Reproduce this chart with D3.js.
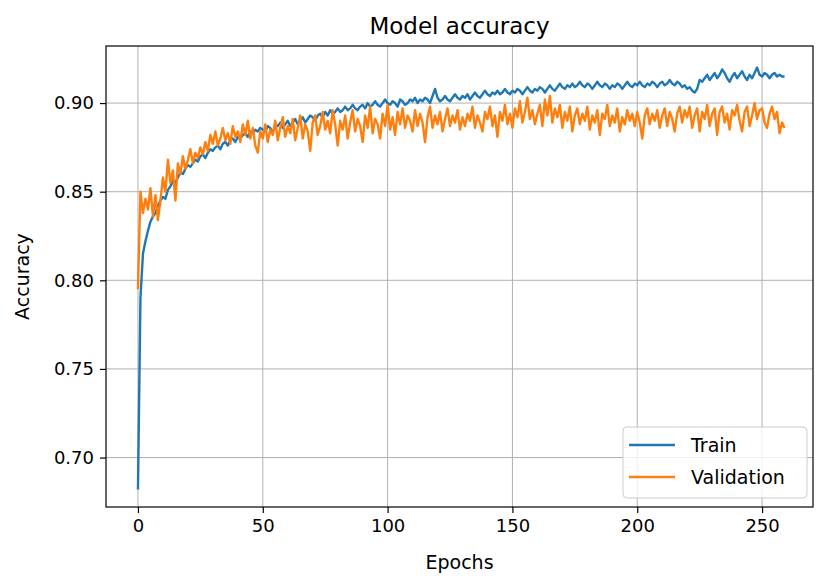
<html>
<script src="https://d3js.org/d3.v7.min.js"></script>
<style>
    body { margin: 0; background: #fff; }
    text { font-family: "DejaVu Sans", sans-serif; fill: #000; }
</style>
<body>
<svg width="817" height="581"></svg>
<script>
// epochs 0..259, values
var train = [
    0.682, 0.790, 0.815, 0.822, 0.828, 0.833, 0.836, 0.838, 0.842, 0.845,
    0.847, 0.846, 0.851, 0.853, 0.856, 0.855, 0.858, 0.861, 0.860, 0.863,
    0.865, 0.864, 0.866, 0.868, 0.867, 0.870, 0.871, 0.869, 0.872, 0.874,
    0.873, 0.875, 0.876, 0.874, 0.877, 0.878, 0.876, 0.879, 0.880, 0.878,
    0.881, 0.880, 0.882, 0.883, 0.881, 0.884, 0.883, 0.885, 0.884, 0.886,
    0.885, 0.884, 0.887, 0.886, 0.883, 0.888, 0.887, 0.889, 0.886, 0.888,
    0.890, 0.887, 0.889, 0.891, 0.888, 0.890, 0.892, 0.889, 0.891, 0.893,
    0.892, 0.890, 0.893, 0.894, 0.892, 0.895, 0.893, 0.896, 0.894, 0.895,
    0.897, 0.895, 0.896, 0.898, 0.896, 0.897, 0.899, 0.897, 0.896, 0.898,
    0.899, 0.897, 0.900, 0.898, 0.899, 0.901, 0.899, 0.898, 0.900, 0.902,
    0.900, 0.899, 0.901, 0.900, 0.898, 0.902, 0.901, 0.899, 0.900, 0.902,
    0.901, 0.903, 0.900, 0.902, 0.901, 0.903, 0.902, 0.900, 0.904, 0.908,
    0.903, 0.901, 0.902, 0.904, 0.902, 0.901, 0.903, 0.905, 0.903, 0.902,
    0.904, 0.903, 0.905, 0.902, 0.904, 0.906, 0.904, 0.903, 0.905, 0.907,
    0.905, 0.904, 0.906, 0.905, 0.907, 0.905, 0.906, 0.908, 0.906, 0.905,
    0.907, 0.906, 0.908, 0.907, 0.905, 0.907, 0.909, 0.907, 0.906, 0.908,
    0.907, 0.909, 0.908, 0.906, 0.908, 0.910, 0.908, 0.907, 0.909, 0.911,
    0.909, 0.908, 0.910, 0.909, 0.911, 0.909, 0.910, 0.912, 0.910, 0.909,
    0.911, 0.910, 0.908, 0.910, 0.912, 0.910, 0.909, 0.911, 0.910, 0.908,
    0.910, 0.909, 0.911, 0.910, 0.908, 0.910, 0.912, 0.910, 0.909, 0.911,
    0.910, 0.912, 0.910, 0.909, 0.911, 0.910, 0.912, 0.911, 0.909, 0.911,
    0.912, 0.910, 0.911, 0.913, 0.911, 0.910, 0.912, 0.911, 0.909, 0.910,
    0.908, 0.909, 0.907, 0.906, 0.908, 0.913, 0.912, 0.914, 0.916, 0.913,
    0.915, 0.917, 0.914, 0.916, 0.919, 0.917, 0.914, 0.912, 0.915, 0.917,
    0.914, 0.916, 0.918, 0.915, 0.913, 0.916, 0.914, 0.917, 0.920, 0.916,
    0.915, 0.917, 0.916, 0.914, 0.916, 0.917, 0.915, 0.916, 0.915, 0.915
];
var validation = [
    0.795, 0.850, 0.838, 0.846, 0.840, 0.852, 0.836, 0.848, 0.834, 0.845,
    0.858, 0.850, 0.868, 0.855, 0.862, 0.845, 0.866, 0.860, 0.870, 0.863,
    0.868, 0.874, 0.866, 0.872, 0.869, 0.875, 0.871, 0.878, 0.873, 0.882,
    0.877, 0.884, 0.876, 0.880, 0.886, 0.879, 0.883, 0.877, 0.887, 0.881,
    0.884, 0.878, 0.888, 0.882, 0.890, 0.880, 0.886, 0.876, 0.872, 0.884,
    0.880, 0.888, 0.878, 0.885, 0.882, 0.890, 0.879, 0.886, 0.892, 0.881,
    0.887, 0.883, 0.891, 0.879, 0.886, 0.893, 0.880, 0.888, 0.884, 0.873,
    0.889, 0.893, 0.882, 0.887, 0.895, 0.885, 0.890, 0.883, 0.896, 0.888,
    0.876, 0.890, 0.885, 0.893, 0.880, 0.889, 0.896, 0.884, 0.891, 0.887,
    0.878, 0.893, 0.886, 0.898, 0.883, 0.891, 0.888, 0.880, 0.894, 0.887,
    0.899, 0.885, 0.892, 0.882, 0.895, 0.888, 0.897, 0.886, 0.893, 0.890,
    0.884, 0.896, 0.887, 0.894, 0.889, 0.878, 0.892, 0.898, 0.886, 0.893,
    0.888, 0.895, 0.884, 0.891, 0.897, 0.887, 0.893, 0.889, 0.896, 0.885,
    0.892, 0.887, 0.894, 0.890, 0.898, 0.886, 0.893, 0.889, 0.884, 0.895,
    0.891, 0.898, 0.887, 0.893, 0.881, 0.895, 0.890, 0.899, 0.888, 0.894,
    0.886, 0.897, 0.892, 0.901, 0.889, 0.895, 0.903, 0.891, 0.896, 0.888,
    0.894, 0.899, 0.887, 0.902, 0.893, 0.904, 0.889, 0.897, 0.892, 0.899,
    0.886, 0.895, 0.890, 0.898, 0.884, 0.893, 0.897, 0.888, 0.894, 0.890,
    0.898, 0.885, 0.893, 0.889, 0.896, 0.882, 0.894, 0.891, 0.899, 0.887,
    0.893, 0.889, 0.897, 0.884, 0.892, 0.888, 0.896, 0.890, 0.894, 0.887,
    0.895, 0.889, 0.880, 0.893, 0.897, 0.888, 0.894, 0.890, 0.896, 0.886,
    0.893, 0.897, 0.887, 0.895, 0.891, 0.884, 0.894, 0.898, 0.889, 0.896,
    0.892, 0.898, 0.886, 0.893, 0.897, 0.884, 0.895, 0.891, 0.899, 0.887,
    0.894, 0.897, 0.882, 0.895, 0.898, 0.889, 0.894, 0.885, 0.896, 0.893,
    0.899, 0.890, 0.884, 0.895, 0.898, 0.887, 0.893, 0.900, 0.891, 0.896,
    0.897, 0.889, 0.886, 0.894, 0.898, 0.891, 0.895, 0.883, 0.889, 0.886
];
var xTicks = [0, 50, 100, 150, 200, 250];
var yTicks = [0.70, 0.75, 0.80, 0.85, 0.90];
var seriesNames = ["Train", "Validation"];
var colors = ["#1f77b4", "#ff7f0e"];

var mLeft = 106, mRight = 813, mTop = 46, mBottom = 507;
var svg = d3.select("svg");

var xs = d3.scaleLinear().domain([-12.8, 270.4]).range([mLeft, mRight]);
var ys = d3.scaleLinear().domain([0.6721, 0.9322]).range([mBottom, mTop]);

// grid
svg.append("g").selectAll("line").data(xTicks).enter().append("line")
    .attr("x1", d => xs(d)).attr("x2", d => xs(d))
    .attr("y1", mTop).attr("y2", mBottom)
    .attr("stroke", "#b0b0b0").attr("stroke-width", 1);
svg.append("g").selectAll("line").data(yTicks).enter().append("line")
    .attr("y1", d => ys(d)).attr("y2", d => ys(d))
    .attr("x1", mLeft).attr("x2", mRight)
    .attr("stroke", "#b0b0b0").attr("stroke-width", 1);

// lines
var line = d3.line().x((d, i) => xs(i)).y(d => ys(d));
[train, validation].forEach(function (s, k) {
    svg.append("path").datum(s)
        .attr("d", line)
        .attr("fill", "none")
        .attr("stroke", colors[k])
        .attr("stroke-width", 2.4)
        .attr("stroke-linejoin", "round");
});

// axes
var xAxis = svg.append("g")
    .attr("transform", "translate(0," + mBottom + ")")
    .call(d3.axisBottom(xs).tickValues(xTicks).tickSize(6).tickPadding(6).tickFormat(d3.format("d")));
var yAxis = svg.append("g")
    .attr("transform", "translate(" + mLeft + ",0)")
    .call(d3.axisLeft(ys).tickValues(yTicks).tickSize(6).tickPadding(6).tickFormat(d3.format(".2f")));
[xAxis, yAxis].forEach(function (a) {
    a.select(".domain").remove();
    a.selectAll("text").style("font-family", "DejaVu Sans").style("font-size", "18px").attr("fill", "#000");
    a.selectAll("line").attr("stroke", "#000").attr("stroke-width", 1.2);
});

svg.append("rect")
    .attr("x", mLeft).attr("y", mTop)
    .attr("width", mRight - mLeft).attr("height", mBottom - mTop)
    .attr("fill", "none").attr("stroke", "#000").attr("stroke-width", 1.2);

// titles
svg.append("text").attr("x", (mLeft + mRight) / 2).attr("y", 34)
    .attr("text-anchor", "middle").style("font-size", "23px").text("Model accuracy");
svg.append("text").attr("x", (mLeft + mRight) / 2).attr("y", 569)
    .attr("text-anchor", "middle").style("font-size", "19px").text("Epochs");
svg.append("text")
    .attr("transform", "translate(29," + (mTop + mBottom) / 2 + ") rotate(-90)")
    .attr("text-anchor", "middle").style("font-size", "19px").text("Accuracy");

// legend
var lg = svg.append("g");
lg.append("rect")
    .attr("x", 623).attr("y", 427).attr("width", 184).attr("height", 71)
    .attr("rx", 4).attr("fill", "#fff").attr("fill-opacity", 0.8)
    .attr("stroke", "#cccccc").attr("stroke-width", 1);
seriesNames.forEach(function (n, i) {
    var y = 445 + i * 32;
    lg.append("line").attr("x1", 629).attr("x2", 675).attr("y1", y).attr("y2", y)
        .attr("stroke", colors[i]).attr("stroke-width", 2.4);
    lg.append("text").attr("x", 691).attr("y", y + 7)
        .style("font-size", "19px").text(n);
});
</script>
</body>
</html>
